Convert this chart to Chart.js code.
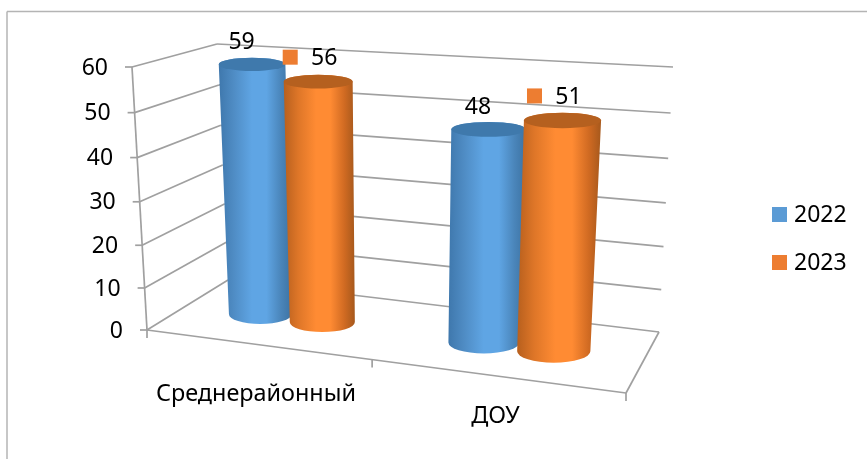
<!DOCTYPE html>
<html>
<head>
<meta charset="utf-8">
<style>
  html, body { margin: 0; padding: 0; background: #fff; }
  canvas { display: block; }
</style>
<script src="https://cdn.jsdelivr.net/npm/chart.js@4"></script>
</head>
<body>
<canvas id="chart" width="867" height="459"></canvas>
<script>
const categories = ["Среднерайонный", "ДОУ"];
const years = ["2022", "2023"];
const values2022 = [59, 48];
const values2023 = [56, 51];
const valueTicks = [0, 10, 20, 30, 40, 50, 60];

const FONT = '"Noto Sans", sans-serif';
const TEXT = "#000";
const GRID = "#a0a0a0";

// corners of the 3d box on the page, floor then top of the walls
const FLOOR = { fl: [147, 330], fr: [626, 393], bl: [228, 280], br: [659, 332] };
const ROOF = { fl: [132, 67], fr: [644, 99], bl: [217, 44], br: [673, 67] };
const DEPTH = 0.5; // bars stand half way into the floor
const FATTEN = 1.03; // cylinders slightly overlap each other

const skins = [
    { stops: ["#3f78ad", "#4f8cc4", "#5fa5e4", "#5fa5e4", "#4a85ba", "#3c72a2"], top: "#3f79ac", key: "#5b9bd5" },
    { stops: ["#b8601e", "#de7628", "#ff8b33", "#ff8b33", "#d06a22", "#a5581c"], top: "#b5601f", key: "#ed7d31" }
];
const gradientAt = [0, 0.2, 0.45, 0.65, 0.85, 1];

const lerp = (a, b, k) => a + (b - a) * k;
const lerp2 = (a, b, k) => [lerp(a[0], b[0], k), lerp(a[1], b[1], k)];

// perspective: the left of the floor and the bottom of the walls are squeezed a bit
const warp = u => u - 0.12 * u * (1 - u);
const warpUp = t => t - 0.05 * t * (1 - t);

function project(u, depth, t) {
    const w = warp(u);
    const low = lerp2(lerp2(FLOOR.fl, FLOOR.fr, w), lerp2(FLOOR.bl, FLOOR.br, w), depth);
    const high = lerp2(lerp2(ROOF.fl, ROOF.fr, w), lerp2(ROOF.bl, ROOF.br, w), depth);
    return lerp2(low, high, warpUp(t));
}

function line(ctx, a, b, color, width) {
    ctx.strokeStyle = color || GRID;
    ctx.lineWidth = width || 1.7;
    ctx.beginPath();
    ctx.moveTo(a[0], a[1]);
    ctx.lineTo(b[0], b[1]);
    ctx.stroke();
}

function text(ctx, str, x, y, align) {
    ctx.fillStyle = TEXT;
    ctx.textAlign = align || "center";
    ctx.textBaseline = "middle";
    ctx.fillText(str, x, y + 1);
}

function drawWalls(chart) {
    const { ctx, chartArea: area } = chart;
    const yScale = chart.scales.y;

    // picture frame
    line(ctx, [7, 459], [7, 11.5], "#b4b4b4", 1.5);
    line(ctx, [7, 11.5], [867, 11.5], "#b4b4b4", 1.5);

    ctx.font = "23px " + FONT;
    yScale.ticks.forEach(tick => {
        const t = (area.bottom - yScale.getPixelForValue(tick.value)) / area.height;
        const front = project(0, 0, t);
        line(ctx, front, project(0, 1, t));
        line(ctx, project(0, 1, t), project(1, 1, t));
        line(ctx, front, [front[0] - 7, front[1]]);
        text(ctx, String(tick.value), front[0] - 24, front[1], "right");
    });
    line(ctx, project(0, 0, 0), project(0, 0, 1));

    // floor
    line(ctx, project(0, 0, 0), project(1, 0, 0));
    line(ctx, project(1, 0, 0), project(1, 1, 0));
    const xScale = chart.scales.x;
    [0, 0.5, 1].forEach(u => {
        const p = project(u, 0, 0);
        line(ctx, p, [p[0], p[1] + 8]);
    });

    const drops = [49, 40];
    ctx.font = "23.4px " + FONT;
    categories.forEach((name, i) => {
        const u = (xScale.getPixelForValue(i) - area.left) / area.width;
        const p = project(u, 0, 0);
        text(ctx, name, p[0], p[1] + drops[i]);
    });
}

function drawCylinder(chart, bar, skin) {
    const { ctx, chartArea: area } = chart;
    const u = (bar.x - area.left) / area.width;
    const half = FATTEN * bar.width / area.width / 2;
    const t = (area.bottom - bar.y) / area.height;

    const baseL = project(u - half, DEPTH, 0);
    const baseR = project(u + half, DEPTH, 0);
    const topL = project(u - half, DEPTH, t);
    const topR = project(u + half, DEPTH, t);
    const baseC = project(u, DEPTH, 0);
    const topC = project(u, DEPTH, t);

    const baseRx = (baseR[0] - baseL[0]) / 2;
    const topRx = (topR[0] - topL[0]) / 2;
    const baseRy = baseRx * 0.31;
    const topRy = topRx * 0.2;

    const grad = ctx.createLinearGradient(Math.min(baseL[0], topL[0]), 0, Math.max(baseR[0], topR[0]), 0);
    gradientAt.forEach((at, i) => grad.addColorStop(at, skin.stops[i]));

    ctx.fillStyle = grad;
    ctx.beginPath();
    ctx.moveTo(topC[0] - topRx, topC[1]);
    ctx.lineTo(baseC[0] - baseRx, baseC[1]);
    ctx.ellipse(baseC[0], baseC[1], baseRx, baseRy, 0, Math.PI, 0, true);
    ctx.lineTo(topC[0] + topRx, topC[1]);
    ctx.ellipse(topC[0], topC[1], topRx, topRy, 0, 0, Math.PI, true);
    ctx.closePath();
    ctx.fill();

    ctx.fillStyle = skin.top;
    ctx.beginPath();
    ctx.ellipse(topC[0], topC[1], topRx, topRy, 0, 0, Math.PI * 2);
    ctx.fill();

    return topC;
}

const cylinders = {
    id: "cylinders",
    beforeDatasetDraw: () => false,
    beforeDatasetsDraw(chart) {
        drawWalls(chart);
    },
    afterDatasetsDraw(chart) {
        const { ctx } = chart;
        const tops = [];
        categories.forEach((_, c) => {
            chart.data.datasets.forEach((ds, s) => {
                const bar = chart.getDatasetMeta(s).data[c];
                tops.push({ p: drawCylinder(chart, bar, skins[s]), s, value: ds.data[c] });
            });
        });

        // data labels, the 2023 ones carry a legend key like in the original
        ctx.font = "23px " + FONT;
        tops.forEach(({ p, s, value }) => {
            if (s === 0) {
                text(ctx, String(value), p[0] - 10.5, p[1] - 23);
            } else {
                ctx.fillStyle = skins[s].key;
                ctx.fillRect(p[0] - 35.5, p[1] - 32, 15, 15);
                text(ctx, String(value), p[0] + 6, p[1] - 24);
            }
        });

        // legend
        years.forEach((year, i) => {
            const y = 214.5 + i * 48;
            ctx.fillStyle = skins[i].key;
            ctx.fillRect(772, y - 7.5, 15, 15);
            text(ctx, year, 794, y, "left");
        });
    }
};

new Chart(document.getElementById("chart"), {
    type: "bar",
    data: {
        labels: categories,
        datasets: [
            { label: years[0], data: values2022, backgroundColor: skins[0].key },
            { label: years[1], data: values2023, backgroundColor: skins[1].key }
        ]
    },
    plugins: [cylinders],
    options: {
        responsive: false,
        animation: false,
        layout: { padding: { left: 147, top: 67, right: 241, bottom: 129 } },
        categoryPercentage: 0.58,
        barPercentage: 1,
        plugins: { legend: { display: false }, tooltip: { enabled: false } },
        scales: {
            x: {
                grid: { display: false },
                border: { display: false },
                ticks: { display: false }
            },
            y: {
                min: 0,
                max: 60,
                afterBuildTicks: scale => { scale.ticks = valueTicks.map(value => ({ value })); },
                grid: { display: false },
                border: { display: false },
                ticks: { display: false }
            }
        }
    }
});
</script>
</body>
</html>
